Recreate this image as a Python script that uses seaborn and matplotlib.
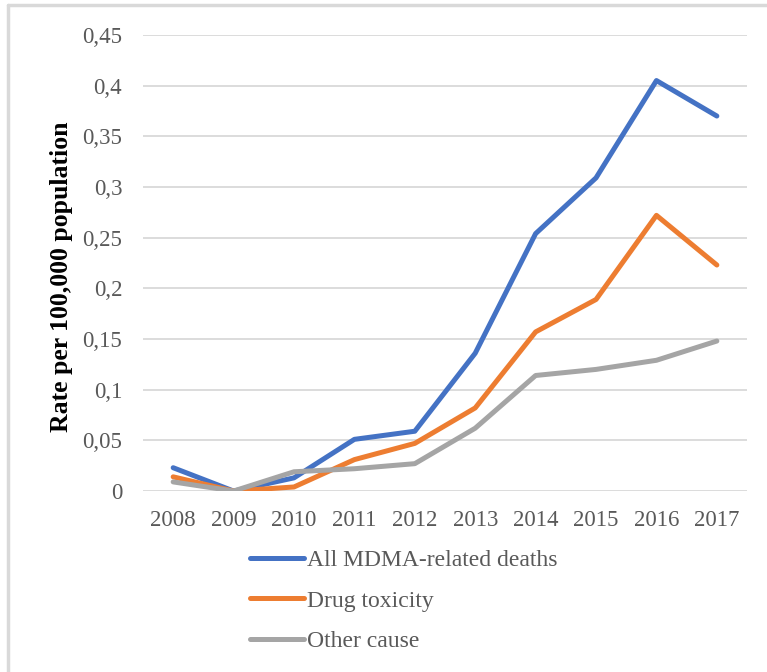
import numpy as np
import pandas as pd
import seaborn as sns
import matplotlib.pyplot as plt
from matplotlib.lines import Line2D
from matplotlib.ticker import FuncFormatter

years = [2008, 2009, 2010, 2011, 2012, 2013, 2014, 2015, 2016, 2017]
all_mdma = [0.023, 0.0, 0.013, 0.051, 0.059, 0.136, 0.254, 0.309, 0.405, 0.370]
drug_tox = [0.014, 0.0, 0.004, 0.031, 0.047, 0.082, 0.157, 0.189, 0.272, 0.223]
other = [0.009, 0.0, 0.019, 0.022, 0.027, 0.062, 0.114, 0.120, 0.129, 0.148]
series_names = ["All MDMA-related deaths", "Drug toxicity", "Other cause"]

df = pd.DataFrame({
    "Year": years * 3,
    "Rate": all_mdma + drug_tox + other,
    "Series": [series_names[0]] * 10 + [series_names[1]] * 10 + [series_names[2]] * 10,
})

sns.set_style("white")
plt.rcParams['font.family'] = ['Liberation Serif', 'DejaVu Serif']
txt = "#595959"

fig = plt.figure(figsize=(7.67, 6.72), dpi=100)
ax = fig.add_axes([0.1864, 0.2693, 0.974 - 0.1864, 0.948 - 0.2693])

pal = {series_names[0]: "#4472C4", series_names[1]: "#ED7D31", series_names[2]: "#A5A5A5"}
sns.lineplot(data=df, x="Year", y="Rate", hue="Series", palette=pal,
             linewidth=3.6, ax=ax, legend=False, solid_capstyle="round")

ax.set_xlim(2007.5, 2017.5)
ax.set_ylim(0, 0.45)
ax.set_yticks(np.arange(0, 0.451, 0.05))
ax.yaxis.set_major_formatter(FuncFormatter(lambda v, p: "0" if abs(v) < 1e-9 else ("%g" % round(v, 2)).replace(".", ",")))
ax.set_xticks(years)
ax.set_xticklabels([str(y) for y in years])
ax.tick_params(axis="both", labelsize=16.5, colors=txt, length=0)
ax.tick_params(axis="y", pad=15)
ax.tick_params(axis="x", pad=14)
ax.grid(axis="y", color="#D9D9D9", linewidth=1.3)
ax.set_axisbelow(True)
for s in ax.spines.values():
    s.set_visible(False)
ax.set_xlabel("")
ax.set_ylabel("Rate per 100,000 population", fontsize=18.5, fontweight="bold", color="black")
ax.yaxis.set_label_coords(-0.115, 0.469)

handles = [Line2D([], [], color=pal[n], linewidth=3.6, solid_capstyle="round") for n in series_names]
fig.legend(handles, series_names, loc="upper left", bbox_to_anchor=(0.313, 0.196),
           frameon=False, fontsize=17, labelcolor=txt, handlelength=2.3,
           handletextpad=0.12, labelspacing=0.8, borderaxespad=0)

# chart frame edges visible in the crop
fig.add_artist(Line2D([0.01, 1.0], [0.993, 0.993], color="#D9D9D9", linewidth=2.5, transform=fig.transFigure))
fig.add_artist(Line2D([0.011, 0.011], [0.0, 0.993], color="#D9D9D9", linewidth=2.5, transform=fig.transFigure))

fig.savefig("out.png", dpi=100)
